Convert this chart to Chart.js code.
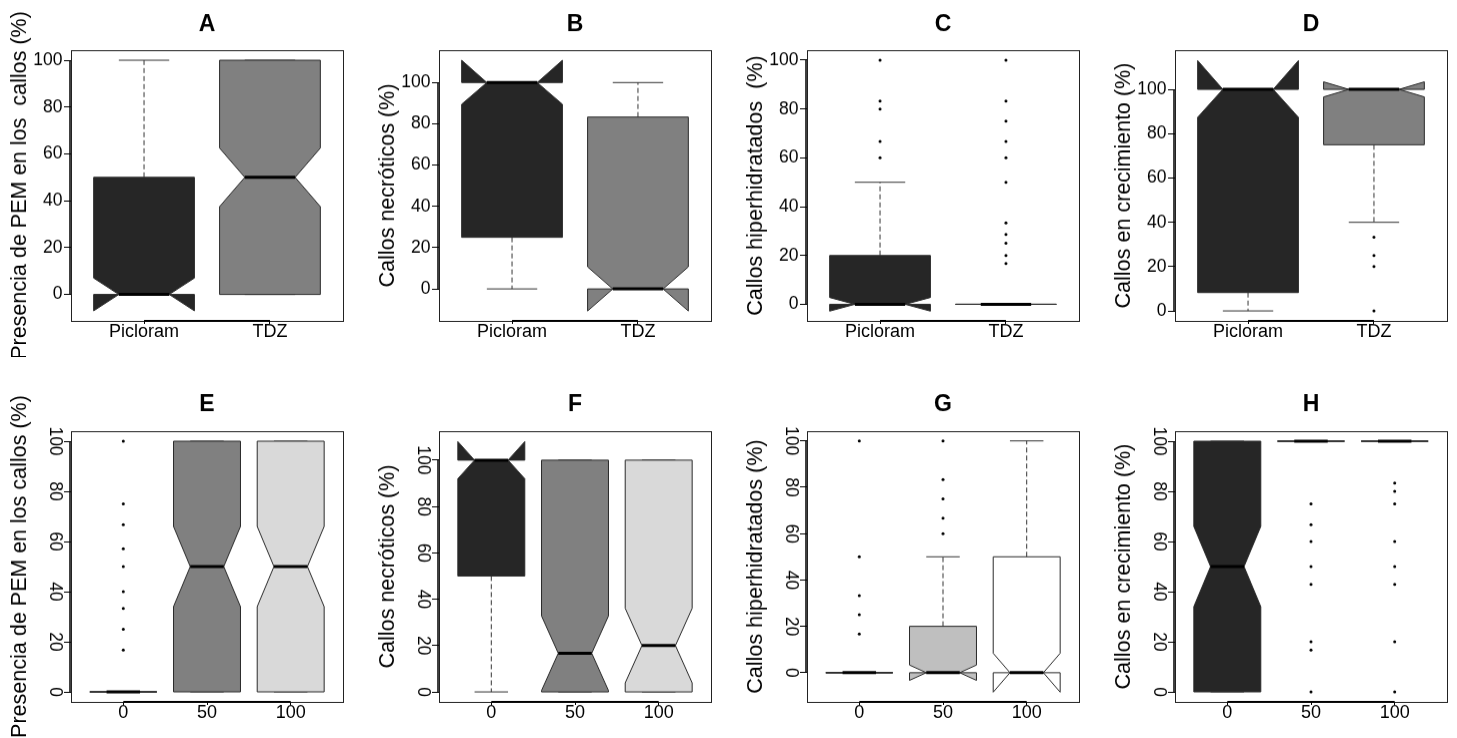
<!DOCTYPE html>
<html><head><meta charset="utf-8">
<script src="https://cdn.jsdelivr.net/npm/chart.js@4.4.1/dist/chart.umd.min.js"></script>
<style>
html,body{margin:0;padding:0;background:#fff;}
body{width:1457px;height:738px;overflow:hidden;position:relative;}
canvas{position:absolute;}
</style></head><body>
<script>
// ---------------- DATA ----------------
const panelLetters = ['A','B','C','D','E','F','G','H'];
const yAxisTitles = [
  'Presencia de PEM en los  callos (%)', 'Callos necróticos (%)', 'Callos hiperhidratados  (%)', 'Callos en crecimiento (%)',
  'Presencia de PEM en los callos (%)', 'Callos necróticos (%)', 'Callos hiperhidratados (%)', 'Callos en crecimiento (%)'
];
const catsHormona = ['Picloram', 'TDZ'];
const catsDosis = ['0', '50', '100'];
const yTickValues = [0, 20, 40, 60, 80, 100];

// each group: [lowerWhisker, Q1, median, Q3, upperWhisker, notchLow, notchHigh]
const statsA = [[0, 0, 0, 50, 100, -7, 7], [0, 0, 50, 100, 100, 37.5, 62.5]];
const statsB = [[0, 25, 100, 100, 100, 89.5, 110.8], [0, 0, 0, 83.3, 100, -10.7, 10.7]];
const statsC = [[0, 0, 0, 20, 50, -2.8, 2.8], [0, 0, 0, 0, 0, 0, 0]];
const statsD = [[0, 8.3, 100, 100, 100, 87.4, 113], [40, 75, 100, 100, 100, 96.6, 103.4]];
const statsE = [[0, 0, 0, 0, 0, 0, 0], [0, 0, 50, 100, 100, 34, 66], [0, 0, 50, 100, 100, 34, 66]];
const statsF = [[0, 50, 100, 100, 100, 92, 108], [0, 0, 16.7, 100, 100, 0.6, 32.8], [0, 0, 20, 100, 100, 3.9, 36.1]];
const statsG = [[0, 0, 0, 0, 0, 0, 0], [0, 0, 0, 20, 50, -3.3, 3.3], [0, 0, 0, 50, 100, -8.4, 8.4]];
const statsH = [[0, 0, 50, 100, 100, 34, 66], [100, 100, 100, 100, 100, 100, 100], [100, 100, 100, 100, 100, 100, 100]];

// outliers per group
const outA = [[], []];
const outB = [[], []];
const outC = [[60, 66.7, 80, 83.3, 100], [16.7, 20, 25, 28.6, 33.3, 50, 60, 66.7, 75, 83.3, 100]];
const outD = [[], [0, 20, 25, 33.3]];
const outE = [[16.7, 25, 33.3, 40, 50, 57.1, 66.7, 75, 100], [], []];
const outF = [[], [], []];
const outG = [[16.7, 25, 33.3, 50, 100], [60, 66.7, 75, 83.3, 100], []];
const outH = [[], [0, 16.7, 20, 42.9, 50, 60, 66.7, 75], [0, 20, 42.9, 50, 60, 75, 80, 83.3]];

// y-axis limits of each panel
const yLimA = [-11.3, 104.3], yLimB = [-15.5, 115.7], yLimC = [-6.8, 104.1], yLimD = [-4.5, 117.7];
const yLimE = [-4, 104], yLimF = [-4.3, 112.5], yLimG = [-12.6, 104.2], yLimH = [-4, 104];

// ---------------- STYLE / LAYOUT ----------------
const fillTop = ['#262626', '#808080'];
const fillEF = ['#262626', '#808080', '#d9d9d9'];
const fillG = ['#262626', '#bfbfbf', '#ffffff'];
const plotLefts = [71, 438.5, 807, 1175];
const plotTops = [50, 431];
const plotW = 272, plotH = 270.5;
const LEFT_W = 72, TOP_H = 50, BOTTOM_H = 36, RIGHT_PAD = 8;
const FONT = "'Liberation Sans', Arial, Helvetica, sans-serif";

const panels = [
  {stats: statsA, out: outA, lim: yLimA, cats: catsHormona, fills: fillTop},
  {stats: statsB, out: outB, lim: yLimB, cats: catsHormona, fills: fillTop},
  {stats: statsC, out: outC, lim: yLimC, cats: catsHormona, fills: fillTop},
  {stats: statsD, out: outD, lim: yLimD, cats: catsHormona, fills: fillTop},
  {stats: statsE, out: outE, lim: yLimE, cats: catsDosis, fills: fillEF},
  {stats: statsF, out: outF, lim: yLimF, cats: catsDosis, fills: fillEF},
  {stats: statsG, out: outG, lim: yLimG, cats: catsDosis, fills: fillG},
  {stats: statsH, out: outH, lim: yLimH, cats: catsDosis, fills: fillEF}
];

Chart.defaults.font.family = FONT;
Chart.defaults.color = '#000';

function boxPlugin(stats, fills) {
  return {
    id: 'notchedBoxes',
    beforeDatasetsDraw(chart) {
      const {ctx, scales: {x, y}} = chart;
      const Y = v => y.getPixelForValue(v);
      const X = v => x.getPixelForValue(v);
      ctx.save();
      stats.forEach((s, i) => {
        const [wlo, q1, med, q3, whi, nlo, nhi] = s;
        const c = i + 1;
        const xl = X(c - 0.4), xr = X(c + 0.4), xml = X(c - 0.2), xmr = X(c + 0.2), xc = X(c);
        // whiskers
        ctx.strokeStyle = '#333';
        ctx.lineWidth = 1;
        ctx.setLineDash([5, 3]);
        ctx.beginPath();
        if (whi > q3) { ctx.moveTo(xc, Y(q3)); ctx.lineTo(xc, Y(whi)); }
        if (wlo < q1) { ctx.moveTo(xc, Y(q1)); ctx.lineTo(xc, Y(wlo)); }
        ctx.stroke();
        ctx.setLineDash([]);
        ctx.beginPath();
        ctx.moveTo(xml, Y(whi)); ctx.lineTo(xmr, Y(whi));
        ctx.moveTo(xml, Y(wlo)); ctx.lineTo(xmr, Y(wlo));
        ctx.stroke();
        // notched box polygon (R bxp style)
        const pts = [[xl, q1], [xl, nlo], [xml, med], [xl, nhi], [xl, q3], [xr, q3], [xr, nhi], [xmr, med], [xr, nlo], [xr, q1]];
        ctx.beginPath();
        pts.forEach((p, k) => k ? ctx.lineTo(p[0], Y(p[1])) : ctx.moveTo(p[0], Y(p[1])));
        ctx.closePath();
        ctx.fillStyle = fills[i];
        ctx.fill();
        ctx.strokeStyle = '#2a2a2a';
        ctx.lineWidth = 1;
        ctx.lineJoin = 'miter';
        ctx.stroke();
        // median
        ctx.beginPath();
        ctx.strokeStyle = '#000';
        ctx.lineWidth = 3;
        ctx.moveTo(xml, Y(med)); ctx.lineTo(xmr, Y(med));
        ctx.stroke();
      });
      ctx.restore();
    },
    afterDraw(chart) {
      const {ctx, chartArea: a, scales: {x, y}} = chart;
      ctx.save();
      ctx.strokeStyle = '#222';
      ctx.lineWidth = 1;
      ctx.strokeRect(Math.round(a.left) + 0.5, Math.round(a.top) + 0.5, Math.round(a.right - a.left), Math.round(a.bottom - a.top));
      ctx.strokeStyle = '#000';
      ctx.lineWidth = 1.5;
      ctx.beginPath();
      ctx.moveTo(a.left - 1, y.getPixelForValue(yTickValues[0]));
      ctx.lineTo(a.left - 1, y.getPixelForValue(yTickValues[yTickValues.length - 1]));
      ctx.stroke();
      ctx.lineWidth = 2;
      ctx.beginPath();
      ctx.moveTo(x.getPixelForValue(1), a.bottom);
      ctx.lineTo(x.getPixelForValue(stats.length), a.bottom);
      ctx.stroke();
      ctx.restore();
    }
  };
}

panels.forEach((p, idx) => {
  const row = idx < 4 ? 0 : 1;
  const col = idx % 4;
  const n = p.cats.length;
  const canvas = document.createElement('canvas');
  const cw = plotW + LEFT_W + RIGHT_PAD, chh = plotH + TOP_H + BOTTOM_H;
  canvas.width = cw; canvas.height = chh;
  canvas.style.width = cw + 'px'; canvas.style.height = chh + 'px';
  canvas.style.left = (plotLefts[col] - LEFT_W) + 'px';
  canvas.style.top = (plotTops[row] - TOP_H) + 'px';
  document.body.appendChild(canvas);

  const pts = [];
  p.out.forEach((arr, g) => arr.forEach(v => pts.push({x: g + 1, y: v})));

  const xMin = n === 2 ? 0.42 : 0.375, xMax = n === 2 ? 2.58 : 3.625;

  new Chart(canvas, {
    type: 'scatter',
    data: {datasets: [{data: pts, pointRadius: 1.5, pointHoverRadius: 1.5, backgroundColor: '#000', borderWidth: 0}]},
    options: {
      responsive: false, animation: false, devicePixelRatio: 1,
      layout: {padding: {left: 0, right: RIGHT_PAD, top: 0, bottom: 0}},
      plugins: {
        legend: {display: false}, tooltip: {enabled: false},
        title: {display: true, text: panelLetters[idx], fullSize: false,
          font: {size: 23, weight: 'bold', family: FONT}, color: '#000',
          padding: row === 0 ? {top: 11.2, bottom: 11.2} : {top: 10.2, bottom: 12.2}}
      },
      scales: {
        x: {
          type: 'linear', position: 'bottom', min: xMin, max: xMax,
          afterBuildTicks: s => { s.ticks = p.cats.map((c, i) => ({value: i + 1})); },
          afterFit: s => { s.height = BOTTOM_H; },
          grid: {drawOnChartArea: false, drawTicks: true, tickLength: 3, color: '#000', lineWidth: 1},
          border: {display: false},
          ticks: {autoSkip: false, maxRotation: 0, minRotation: 0, padding: -2.5,
            font: {size: 18, family: FONT}, color: '#000',
            callback: v => p.cats[Math.round(v) - 1]}
        },
        y: {
          type: 'linear', position: 'left', min: p.lim[0], max: p.lim[1],
          afterBuildTicks: s => { s.ticks = yTickValues.map(v => ({value: v})); },
          afterFit: s => { s.width = LEFT_W; },
          grid: {drawOnChartArea: false, drawTicks: true, tickLength: 7, color: '#000', lineWidth: 1},
          border: {display: false},
          title: {display: true, text: yAxisTitles[idx], font: {size: 21.5, family: FONT}, color: '#000',
            padding: {top: 8.5, bottom: 0}},
          ticks: row === 0
            ? {font: {size: 17.5, family: FONT}, color: '#000', padding: 1.5, crossAlign: 'near'}
            : {font: {size: 17.5, family: FONT}, color: '#000', padding: -5.6, crossAlign: 'center', minRotation: -90, maxRotation: -90}
        }
      }
    },
    plugins: [boxPlugin(p.stats, p.fills)]
  });
});
</script>
</body></html>
